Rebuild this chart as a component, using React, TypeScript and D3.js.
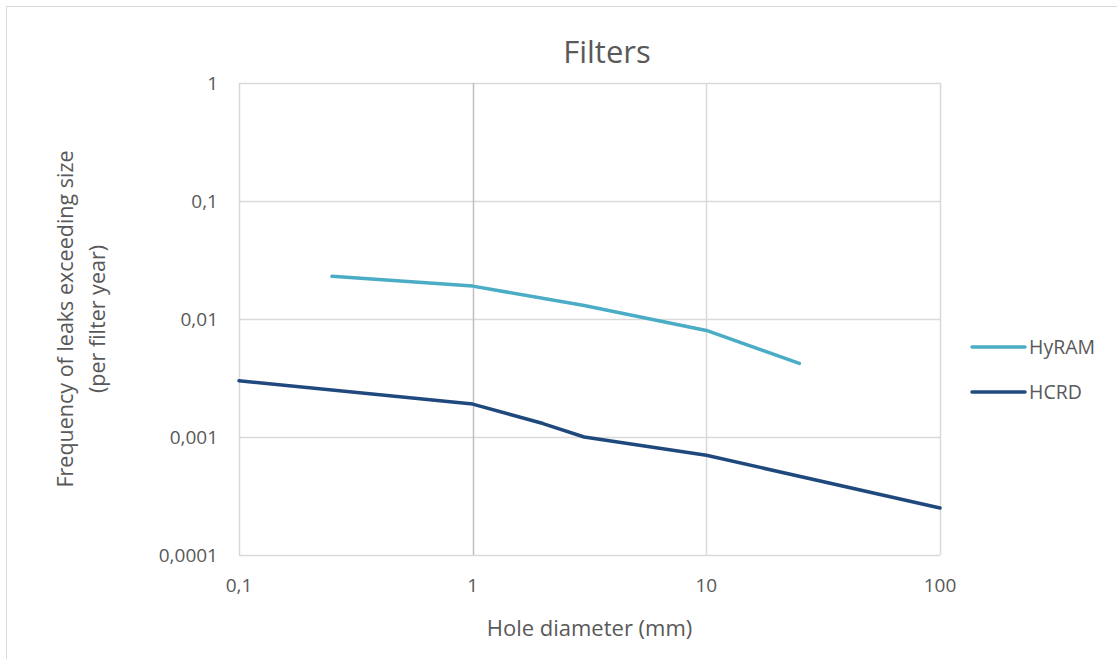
import React, { useEffect, useRef } from 'react'
import * as d3 from 'd3'

// series (hole diameter in mm, leak frequency per filter year)
const hyramDiameter = [0.25, 1, 3, 10, 25]
const hyramFrequency = [0.023, 0.019, 0.013, 0.008, 0.0042]
const hcrdDiameter = [0.1, 1, 2, 3, 10, 100]
const hcrdFrequency = [0.003, 0.0019, 0.0013, 0.001, 0.0007, 0.00025]
const xTicks = [0.1, 1, 10, 100]
const yTicks = [1, 0.1, 0.01, 0.001, 0.0001]
const seriesNames = ['HyRAM', 'HCRD']
const seriesColors = ['#4bacc6', '#1f497d']

const fmt = (v: number) => String(v).replace('.', ',')

const App = () => {
  const ref = useRef<SVGSVGElement>(null)
  const width = 1117
  const height = 659
  const margin = { left: 239, right: 177, top: 83, bottom: 104 }

  useEffect(() => {
    const svg = d3.select(ref.current)
    svg.selectAll('*').remove()
    const font = "'Open Sans', sans-serif"

    const x = d3.scaleLog().domain([0.1, 100]).range([margin.left, width - margin.right])
    const y = d3.scaleLog().domain([0.0001, 1]).range([height - margin.bottom, margin.top])

    // chart border
    svg.append('rect')
      .attr('x', 6.5).attr('y', 6.5)
      .attr('width', width).attr('height', height)
      .attr('fill', '#fff').attr('stroke', '#d9d9d9')

    // gridlines
    svg.append('g').selectAll('line').data(yTicks).join('line')
      .attr('x1', x(0.1)).attr('x2', x(100))
      .attr('y1', d => Math.round(y(d)) + 0.5).attr('y2', d => Math.round(y(d)) + 0.5)
      .attr('stroke', '#d9d9d9').attr('stroke-width', 1.5)
    svg.append('g').selectAll('line').data(xTicks).join('line')
      .attr('x1', d => Math.round(x(d)) + 0.5).attr('x2', d => Math.round(x(d)) + 0.5)
      .attr('y1', y(1)).attr('y2', y(0.0001))
      .attr('stroke', d => d === 1 ? '#bfbfbf' : '#d9d9d9').attr('stroke-width', 1.5)

    // tick labels
    svg.append('g').selectAll('text').data(yTicks).join('text')
      .attr('x', margin.left - 21).attr('y', d => y(d) + 7)
      .attr('text-anchor', 'end')
      .attr('font-family', font).attr('font-size', 19).attr('fill', '#595959')
      .text(fmt)
    svg.append('g').selectAll('text').data(xTicks).join('text')
      .attr('x', d => x(d)).attr('y', height - margin.bottom + 37)
      .attr('text-anchor', 'middle')
      .attr('font-family', font).attr('font-size', 19).attr('fill', '#595959')
      .text(fmt)

    // series
    const line = d3.line<[number, number]>().x(d => x(d[0])).y(d => y(d[1]))
    const series = [
      d3.zip(hyramDiameter, hyramFrequency) as [number, number][],
      d3.zip(hcrdDiameter, hcrdFrequency) as [number, number][],
    ]
    svg.append('g').selectAll('path').data(series).join('path')
      .attr('d', line)
      .attr('fill', 'none')
      .attr('stroke', (_, i) => seriesColors[i])
      .attr('stroke-width', 3.5)
      .attr('stroke-linejoin', 'round')
      .attr('stroke-linecap', 'round')

    // title
    svg.append('text')
      .attr('x', 607).attr('y', 63)
      .attr('text-anchor', 'middle')
      .attr('font-family', font).attr('font-size', 31).attr('fill', '#595959')
      .text('Filters')

    // axis titles
    svg.append('text')
      .attr('x', (x(0.1) + x(100)) / 2).attr('y', 636)
      .attr('text-anchor', 'middle')
      .attr('font-family', font).attr('font-size', 22).attr('fill', '#595959')
      .text('Hole diameter (mm)')
    const yLabel = svg.append('text')
      .attr('transform', `translate(73, ${(y(1) + y(0.0001)) / 2}) rotate(-90)`)
      .attr('text-anchor', 'middle')
      .attr('font-family', font).attr('font-size', 21.5).attr('fill', '#595959')
    yLabel.append('tspan').attr('x', 0).attr('dy', 0).text('Frequency of leaks exceeding size')
    yLabel.append('tspan').attr('x', 0).attr('dy', 32).text('(per filter year)')

    // legend
    const legend = svg.append('g').selectAll('g').data(seriesNames).join('g')
      .attr('transform', (_, i) => `translate(972, ${347 + i * 45})`)
    legend.append('line')
      .attr('x1', 0).attr('x2', 53)
      .attr('stroke', (_, i) => seriesColors[i])
      .attr('stroke-width', 3.5).attr('stroke-linecap', 'round')
    legend.append('text')
      .attr('x', 57).attr('y', 7)
      .attr('font-family', font).attr('font-size', 19.5).attr('fill', '#595959')
      .text(d => d)
  }, [])

  return (
    <svg ref={ref} width={width} height={height}
      style={{ position: 'fixed', left: 0, top: 0, display: 'block' }} />
  )
}

export default App
